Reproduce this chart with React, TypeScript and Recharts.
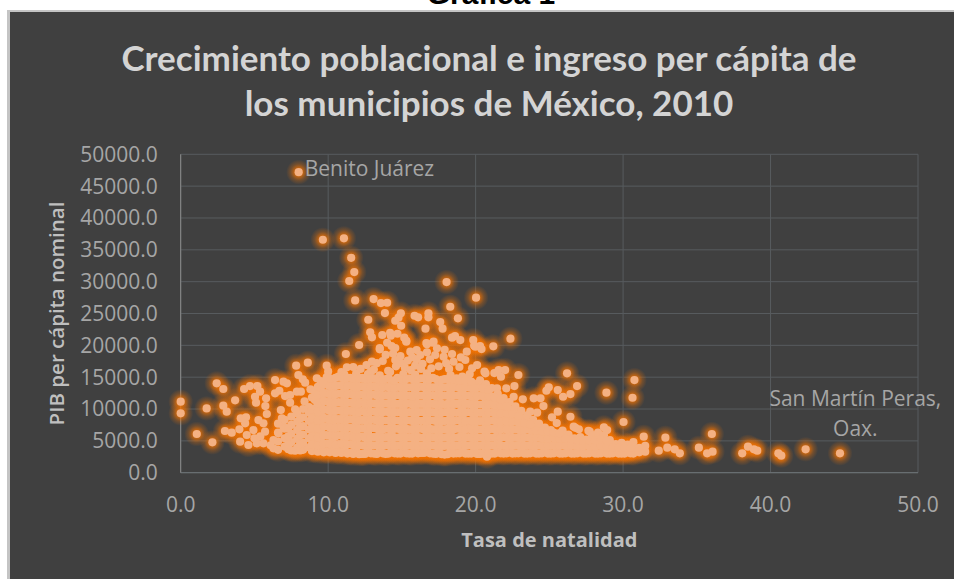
import React from 'react';
import { ScatterChart, Scatter, XAxis, YAxis, CartesianGrid, ReferenceDot, Label } from 'recharts';

// Values: [tasa de natalidad, PIB per capita]
const isolatedTop = [
  [8.0, 47200], [9.64, 36580], [11.07, 36800], [11.56, 33750], [11.77, 31500], [11.43, 30100],
  [11.83, 27060], [13.08, 27270], [13.58, 26640], [14.0, 26690], [13.85, 25070], [12.72, 24020],
  [18.03, 29940], [20.03, 27480], [18.28, 26060], [18.8, 24240], [17.6, 23660], [17.76, 22610],
  [16.6, 22610], [16.8, 25020], [16.8, 24400], [15.86, 24650], [16.1, 24400], [14.93, 25020],
  [14.77, 24340], [14.55, 23860], [14.95, 23080], [12.85, 22040], [12.97, 21260], [13.67, 21620],
  [14.2, 21980], [14.25, 21510], [14.7, 21820], [15.16, 21200], [15.3, 20720], [18.4, 21200],
  [18.6, 21460], [18.96, 20830], [19.84, 20830], [19.98, 19780], [20.3, 19890], [21.2, 19840],
  [22.36, 21040], [12.1, 20050], [14.0, 20410], [13.5, 19580], [16.7, 20160], [17.1, 20410],
];

const upperBand = [
  [9.9, 16800], [10.0, 15900], [11.27, 16550], [11.7, 16600], [12.97, 17430], [13.3, 17200],
  [13.7, 17540], [14.07, 16000], [13.5, 19370], [11.2, 18640], [14.55, 17700], [15.0, 17170],
  [14.55, 19580], [14.3, 19890], [15.3, 20570], [15.57, 19000], [16.0, 19260], [16.25, 18480],
  [16.66, 20360], [17.15, 20570], [17.38, 19530], [17.26, 18480], [17.83, 18210], [18.4, 18640],
  [18.5, 17430], [19.4, 19000], [19.3, 17700], [19.76, 16390], [19.9, 19940], [20.4, 19420],
  [20.67, 15610], [20.1, 16900], [12.2, 16300], [12.6, 16900], [14.9, 18300], [15.4, 17600],
  [15.9, 16800], [16.4, 17100], [16.9, 17800], [17.5, 16700], [18.0, 17200], [18.9, 16600],
  [19.0, 18100], [15.2, 16500], [13.9, 18500], [16.3, 16300], [17.9, 19300], [14.4, 18700],
  [21.27, 15650], [21.56, 16120], [22.0, 16120], [21.72, 15070], [20.6, 15860], [22.9, 15340],
  [13.1, 16200], [14.6, 16700], [15.7, 18100], [16.7, 18900], [18.2, 16300], [19.6, 15500],
  [17.0, 16400], [15.6, 16100], [14.2, 15800], [12.9, 15900], [10.9, 15800], [16.0, 17800],
];

const leftCloud = [
  [0, 11150], [0, 9330], [1.76, 10100], [1.09, 6080], [2.15, 4770], [2.44, 14040], [2.89, 13140],
  [3.69, 11370], [4.3, 13140], [2.89, 10520], [3.12, 9580], [3.0, 6550], [3.46, 6280], [3.98, 6810],
  [4.07, 8540], [4.43, 8700], [4.7, 13610], [5.2, 13610], [5.38, 12720], [5.04, 11930], [5.11, 10990],
  [5.79, 11680], [5.74, 10470], [5.84, 9220], [6.4, 14550], [6.97, 14290], [7.2, 14040], [6.4, 12470],
  [6.69, 12870], [7.83, 16800], [8.62, 17270], [7.98, 15340], [8.28, 14660], [8.44, 14130], [7.08, 12040],
  [7.42, 12200], [7.88, 12720], [8.15, 12720], [7.42, 10990], [7.76, 9950], [6.79, 9840], [6.86, 8540],
  [7.76, 3460], [4.37, 7760], [5.27, 8270], [5.61, 7760], [4.93, 6700], [5.72, 6440], [4.48, 5920],
  [4.03, 4870], [4.59, 4350], [5.16, 4620], [5.61, 4620], [6.29, 3830], [6.29, 5130], [6.63, 6190],
  [6.97, 7220], [5.0, 5400], [5.4, 5700], [6.1, 4300], [9.23, 14820], [8.8, 13100], [8.9, 11800],
  [8.4, 11200], [8.7, 10300],
];

const rightCloud = [
  [26.2, 15600], [26.88, 13610], [26.43, 12350], [25.93, 11930], [25.57, 12980], [24.96, 13410],
  [24.8, 12870], [28.87, 12560], [30.77, 14550], [30.64, 11770], [30.03, 7960], [26.43, 8790],
  [25.57, 9580], [25.18, 8700], [24.6, 10470], [24.4, 11680], [23.94, 11680], [24.17, 9420],
  [23.7, 9580], [23.37, 8270], [23.2, 11520], [22.58, 11930], [22.63, 13610], [22.08, 13250],
  [21.45, 13250], [26.65, 7220], [27.0, 6810], [27.74, 6440], [28.7, 7130], [28.92, 6700],
  [20.77, 2510], [31.4, 5650], [32.87, 5500], [32.42, 3460], [33.0, 3930], [33.5, 3670], [33.85, 3050],
  [35.14, 3930], [36.02, 6080], [35.7, 3050], [36.07, 3300], [38.08, 3050], [38.47, 4080], [38.87, 3670],
  [39.1, 3460], [40.53, 3050], [40.73, 2670], [42.38, 3670], [44.71, 3050], [27.65, 6590], [26.77, 7040],
];

// Solid part of the cloud, estimated column by column
const denseColumns: [number, number[]][] = [
  [6.6, [3600, 4900, 6300, 7700]],
  [7.05, [4100, 5400, 6900, 8300]],
  [7.5, [3500, 4800, 6100, 7500, 8800]],
  [7.9, [3900, 5300, 6700, 8000, 9300]],
  [8.3, [3600, 4700, 6000, 7300, 8700, 10000]],
  [8.7, [4000, 5400, 6800, 8100, 9400]],
  [9.1, [3500, 4800, 6100, 7500, 8800, 10100, 11400, 12700]],
  [9.5, [3900, 5200, 6600, 7900, 9200, 10600, 11900, 13200, 14400]],
  [9.9, [3400, 4600, 5900, 7300, 8500, 9900, 11200, 12500, 13800, 15000]],
  [10.3, [3900, 5300, 6500, 7800, 9100, 10500, 11800, 13100, 14500]],
  [10.7, [3300, 4500, 5900, 7200, 8400, 9800, 11100, 12400, 13700, 15100]],
  [11.1, [3800, 5200, 6500, 7800, 9000, 10400, 11700, 13000, 14300, 15400]],
  [11.5, [3100, 4500, 5800, 7100, 8400, 9700, 11000, 12400, 13700, 14900]],
  [11.9, [3700, 5100, 6400, 7700, 9100, 10300, 11600, 13000, 14300, 15600]],
  [12.3, [2950, 4300, 5700, 7000, 8300, 9700, 11000, 12300, 13600, 14900]],
  [12.7, [3600, 4900, 6300, 7600, 8900, 10300, 11600, 12900, 14200, 15500]],
  [13.1, [3000, 4300, 5600, 7000, 8300, 9600, 10900, 12300, 13600, 14800]],
  [13.5, [3600, 5000, 6200, 7600, 8900, 10200, 11500, 12900, 14100, 15300]],
  [13.9, [2950, 4300, 5600, 6900, 8200, 9600, 10900, 12200, 13500, 14700]],
  [14.3, [3500, 4900, 6200, 7500, 8900, 10200, 11500, 12800, 14000]],
  [14.7, [3000, 4200, 5500, 6900, 8200, 9500, 10800, 12200, 13500, 14900]],
  [15.1, [3600, 4900, 6200, 7500, 8800, 10100, 11500, 12800, 14100, 15500]],
  [15.5, [3000, 4300, 5600, 6800, 8200, 9500, 10900, 12100, 13400, 14800]],
  [15.9, [3500, 4800, 6100, 7500, 8800, 10100, 11400, 12700, 14100, 15400]],
  [16.3, [3100, 4200, 5500, 6900, 8100, 9500, 10800, 12100, 13500, 14800]],
  [16.7, [3600, 4900, 6200, 7500, 8800, 10200, 11400, 12800, 14100, 15600]],
  [17.1, [3000, 4300, 5600, 6800, 8200, 9500, 10800, 12200, 13400, 14900]],
  [17.5, [3500, 4800, 6100, 7400, 8800, 10100, 11400, 12700, 14000]],
  [17.9, [2850, 4200, 5500, 6800, 8100, 9500, 10700, 12100, 13400, 14700]],
  [18.3, [3500, 4900, 6200, 7500, 8800, 10100, 11400, 12800, 14100, 15300]],
  [18.7, [3050, 4200, 5500, 6900, 8200, 9400, 10800, 12100, 13500, 14800]],
  [19.1, [3600, 4900, 6100, 7500, 8800, 10100, 11500, 12700, 14000, 15100]],
  [19.5, [3000, 4300, 5600, 6900, 8100, 9500, 10800, 12100, 13400, 14600]],
  [19.9, [3500, 4800, 6100, 7400, 8700, 10100, 11400, 12700, 14000]],
  [20.3, [2950, 4200, 5500, 6800, 8100, 9400, 10700, 12100, 13400, 14500]],
  [20.7, [3500, 4900, 6200, 7500, 8800, 10100, 11400, 12700, 13900]],
  [21.1, [3000, 4300, 5500, 6900, 8200, 9500, 10800, 12000, 13300]],
  [21.5, [3500, 4800, 6100, 7400, 8800, 10000, 11300, 12400]],
  [21.9, [3000, 4200, 5600, 6900, 8200, 9400, 10700, 11700]],
  [22.3, [3500, 4900, 6200, 7500, 8700, 10000, 11100]],
  [22.7, [3050, 4300, 5500, 6800, 8100, 9300, 10400]],
  [23.1, [3500, 4800, 6100, 7400, 8600, 9700]],
  [23.5, [3000, 4200, 5500, 6800, 7900, 9000]],
  [23.9, [3500, 4900, 6200, 7300, 8300]],
  [24.3, [3000, 4300, 5500, 6700, 7700]],
  [24.7, [3500, 4800, 6100, 7100]],
  [25.1, [3000, 4200, 5500, 6700]],
  [25.5, [3500, 4800, 6000, 7800]],
  [25.9, [3000, 4300, 5500, 6600]],
  [26.3, [3500, 4900, 6000]],
  [26.7, [3000, 4200, 5400]],
  [27.1, [3500, 4800, 5600]],
  [27.5, [3000, 4300, 5200]],
  [27.9, [3500, 4700, 5900]],
  [28.3, [3000, 4200, 5300, 6300]],
  [28.7, [3500, 4700, 5900]],
  [29.1, [3000, 4100, 5100]],
  [29.5, [3500, 4500]],
  [29.9, [3000, 3900, 4700]],
  [30.3, [3500, 4400]],
  [30.7, [3000, 3900, 4800]],
  [31.1, [3200, 3900]],
  [31.5, [3300, 4200]],
];

// Further municipalities inside the solid part, between the columns above
const fillerColumns: [number, number[]][] = [
  [7.3, [3700, 4400, 5700, 7000]],
  [8.1, [3500, 4500, 5900, 7200, 8500]],
  [8.9, [3400, 4400, 5700, 7100, 8500, 9900]],
  [9.3, [3300, 4300, 5500, 6900, 8200, 9600, 10900, 12200, 13500]],
  [9.7, [3200, 4500, 5900, 7200, 8600, 9900, 11300, 12500, 13900]],
  [10.1, [3200, 4500, 5800, 7100, 8300, 9700, 11000, 12300, 13600, 14800]],
  [10.5, [3100, 4400, 5700, 7000, 8400, 9700, 11000, 12300, 13600, 14900]],
  [10.9, [3100, 4500, 5800, 7100, 8400, 9700, 11000, 12400, 13700, 15000]],
  [11.3, [3000, 4400, 5700, 7000, 8300, 9700, 11000, 12300, 13600, 14900]],
  [11.7, [2950, 4300, 5600, 6900, 8300, 9600, 10900, 12200, 13500, 14800]],
  [12.1, [2900, 4300, 5600, 6900, 8200, 9500, 10900, 12200, 13500, 14800]],
  [12.5, [2950, 4200, 5500, 6900, 8200, 9500, 10800, 12100, 13400, 14700]],
  [12.9, [3050, 4300, 5600, 7000, 8300, 9600, 10900, 12200, 13500, 14800]],
  [13.3, [2950, 4300, 5600, 6900, 8200, 9500, 10800, 12100, 13400, 14700]],
  [13.7, [3050, 4200, 5500, 6800, 8200, 9500, 10800, 12100, 13400, 14600]],
  [14.1, [3000, 4300, 5600, 6900, 8200, 9500, 10800, 12100, 13400, 14800]],
  [14.5, [3050, 4200, 5500, 6900, 8200, 9500, 10800, 12100, 13300, 14500]],
  [14.9, [3000, 4300, 5600, 6800, 8100, 9500, 10800, 12100, 13400, 14700]],
  [15.3, [3050, 4200, 5500, 6900, 8200, 9400, 10800, 12100, 13400, 14700]],
  [15.7, [3000, 4200, 5500, 6800, 8100, 9400, 10700, 12000, 13400, 14700]],
  [16.1, [3050, 4300, 5600, 6900, 8200, 9500, 10800, 12100, 13400, 14700]],
  [16.5, [3100, 4200, 5500, 6800, 8200, 9500, 10800, 12100, 13400, 14800]],
  [16.9, [3050, 4300, 5600, 6900, 8200, 9500, 10800, 12100, 13400, 14700]],
  [17.3, [2950, 4200, 5500, 6800, 8100, 9400, 10700, 12000, 13400, 14700]],
  [17.7, [2900, 4200, 5500, 6800, 8100, 9400, 10800, 12100, 13400, 14600]],
  [18.1, [2900, 4300, 5600, 6900, 8200, 9500, 10800, 12100, 13400, 14700]],
  [18.5, [3000, 4200, 5500, 6800, 8100, 9500, 10800, 12100, 13400, 14600]],
  [18.9, [3050, 4300, 5600, 6900, 8200, 9500, 10800, 12100, 13300, 14500]],
  [19.3, [3000, 4200, 5500, 6800, 8100, 9400, 10800, 12100, 13400, 14500]],
  [19.7, [3000, 4300, 5500, 6800, 8100, 9400, 10700, 12000, 13300, 14300]],
  [20.1, [2950, 4200, 5500, 6800, 8100, 9400, 10700, 12000, 13300]],
  [20.5, [3000, 4300, 5500, 6800, 8100, 9400, 10700, 12000, 13200]],
  [20.9, [3000, 4200, 5500, 6800, 8100, 9400, 10700, 12000, 13000]],
  [21.3, [3000, 4200, 5500, 6800, 8100, 9300, 10600, 11800]],
  [21.7, [3050, 4300, 5500, 6800, 8000, 9300, 10500, 11500]],
  [22.1, [3050, 4200, 5500, 6800, 8000, 9300, 10400]],
  [22.5, [3000, 4200, 5500, 6800, 8000, 9200]],
  [22.9, [3050, 4300, 5500, 6800, 7900, 8900]],
  [23.3, [3000, 4200, 5500, 6700, 7800]],
  [23.7, [3050, 4300, 5500, 6700, 7600]],
  [24.1, [3000, 4200, 5500, 6600]],
  [24.5, [3050, 4200, 5400, 6500]],
  [24.9, [3000, 4200, 5300, 6400]],
  [25.3, [3050, 4300, 5400, 6300]],
  [25.7, [3000, 4200, 5300, 6200]],
  [26.1, [3050, 4200, 5300]],
  [26.5, [3000, 4300, 5200]],
  [26.9, [3050, 4200, 5100]],
  [27.3, [3000, 4100, 5000]],
  [27.7, [3050, 4100, 5100]],
  [28.1, [3000, 4100, 5100]],
  [28.5, [3050, 4200, 5200]],
  [28.9, [3000, 4100, 5000]],
  [29.3, [3050, 4000]],
  [29.7, [3000, 3900]],
  [30.1, [3000, 3900]],
  [30.5, [3050, 3900]],
];

const xTicks = [0, 10, 20, 30, 40, 50];
const yTicks = [0, 5000, 10000, 15000, 20000, 25000, 30000, 35000, 40000, 45000, 50000];

const titleLines = ['Crecimiento poblacional e ingreso per cápita de', 'los municipios de México, 2010'];

const rows = [...isolatedTop, ...upperBand, ...leftCloud, ...rightCloud]
  .map(([tasa, pib]) => ({ tasa, pib }))
  .concat([...denseColumns, ...fillerColumns].flatMap(([tasa, pibs]) => pibs.map((pib) => ({ tasa, pib }))));

const tickStyle = { fontFamily: '"Open Sans"', fontSize: 21, fill: '#a6a6a6' };
const noteStyle = { fontFamily: '"Open Sans"', fontSize: 21, fill: '#a6a6a6' };
const xTitleStyle = { fontFamily: '"Open Sans"', fontSize: 20, fontWeight: 700, fill: '#bfbfbf' };
const yTitleStyle = { fontFamily: '"Open Sans"', fontSize: 20.5, fontWeight: 600, fill: '#bfbfbf' };

const GlowDot = (props: any) => <circle cx={props.cx} cy={props.cy} r={12.5} fill="url(#dotGlow)" />;
const SolidDot = (props: any) => <circle cx={props.cx} cy={props.cy} r={4.1} fill="#f4b183" />;

export default function App() {
  return (
    <div style={{ position: 'fixed', left: 0, top: 0, width: 954, height: 579, overflow: 'hidden', background: '#fff' }}>
      <svg width={0} height={0} style={{ position: 'absolute' }}>
        <defs>
          <radialGradient id="dotGlow">
            <stop offset="0%" stopColor="#f57300" stopOpacity={0.85} />
            <stop offset="36%" stopColor="#f57300" stopOpacity={0.68} />
            <stop offset="65%" stopColor="#f57300" stopOpacity={0.28} />
            <stop offset="100%" stopColor="#f57300" stopOpacity={0} />
          </radialGradient>
        </defs>
      </svg>
      <div style={{ position: 'absolute', left: 0, width: 982, top: -21, textAlign: 'center', fontFamily: '"Liberation Sans"', fontWeight: 700, fontSize: 30, lineHeight: '30px', color: '#000' }}>
        Gráfica 1
      </div>
      <div style={{ position: 'absolute', left: 7, top: 10, width: 947, height: 569, boxSizing: 'border-box', background: '#404040', borderLeft: '3px solid #c4c4c4', borderTop: '2px solid #c4c4c4' }} />
      {titleLines.map((line, i) => (
        <div key={line} style={{ position: 'absolute', left: 0, width: 978, top: 35 + i * 44.5, textAlign: 'center', fontFamily: 'Lato', fontWeight: 700, fontSize: 35, lineHeight: '44px', color: '#d4d4d4', whiteSpace: 'nowrap' }}>
          {line}
        </div>
      ))}
      <div style={{ position: 'absolute', left: 0, top: 0 }}>
        <ScatterChart width={954} height={579} margin={{ top: 154.3, right: 36, bottom: 26.3, left: 0 }}>
          <CartesianGrid stroke="#575b5e" strokeWidth={1} />
          <XAxis
            type="number"
            dataKey="tasa"
            domain={[0, 50]}
            ticks={xTicks}
            tickFormatter={(v: number) => v.toFixed(1)}
            tick={tickStyle}
            tickLine={false}
            tickMargin={18}
            height={80}
            stroke="#6e7478"
          >
            <Label value="Tasa de natalidad" position="insideBottom" offset={6} style={xTitleStyle} />
          </XAxis>
          <YAxis
            type="number"
            dataKey="pib"
            domain={[0, 50000]}
            ticks={yTicks}
            tickFormatter={(v: number) => v.toFixed(1)}
            tick={tickStyle}
            tickLine={false}
            tickMargin={17}
            width={180.7}
            stroke="#8c8c8c"
          >
            <Label value="PIB per cápita nominal" angle={-90} position="insideLeft" offset={57} textAnchor="middle" style={yTitleStyle} />
          </YAxis>
          <Scatter data={rows} shape={GlowDot} isAnimationActive={false} />
          <Scatter data={rows} shape={SolidDot} isAnimationActive={false} />
          <ReferenceDot x={8} y={47800} r={0} stroke="none" label={{ value: 'Benito Juárez', position: 'right', offset: 6, style: noteStyle }} />
          <ReferenceDot x={45.75} y={11570} r={0} stroke="none" label={{ value: 'San Martín Peras,', position: 'center', style: noteStyle }} />
          <ReferenceDot x={45.75} y={6860} r={0} stroke="none" label={{ value: 'Oax.', position: 'center', style: noteStyle }} />
        </ScatterChart>
      </div>
    </div>
  );
}
